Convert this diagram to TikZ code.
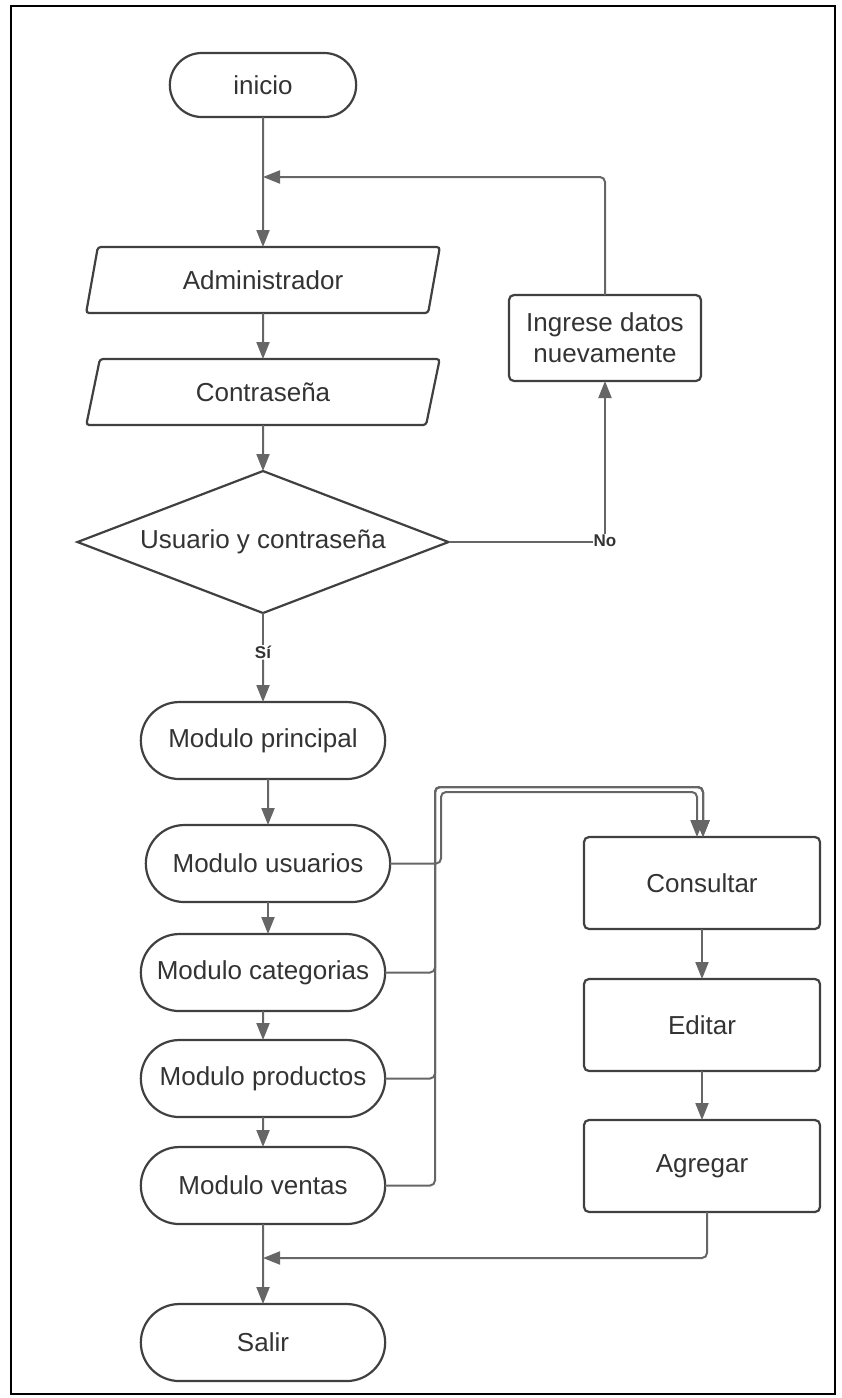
\documentclass[tikz,border=0pt]{standalone}
\usepackage{fontspec}
\setmainfont{Liberation Sans}
\usepackage{tikz}
\usetikzlibrary{positioning,shapes.geometric,shapes.misc,arrows.meta}

\begin{document}
\begin{tikzpicture}[
  x=1pt, y=-1pt,
  node distance=46pt,
  font=\fontsize{26}{31}\selectfont,
  every node/.style={text=black!80, outer sep=0pt},
  terminal/.style={rounded rectangle, draw=black!75, line width=2.2pt, minimum width=251pt, minimum height=77pt},
  inputbox/.style={trapezium, trapezium left angle=77, trapezium right angle=103, trapezium stretches=true, draw=black!75, line width=2.2pt, rounded corners=3pt, minimum width=354pt, minimum height=66pt},
  decision/.style={diamond, aspect=2.6, draw=black!75, line width=2.2pt, minimum width=371pt, minimum height=142pt, inner sep=0pt},
  process/.style={rectangle, draw=black!75, line width=2.2pt, rounded corners=5pt, minimum width=236pt, minimum height=92pt, align=center},
  tag/.style={font=\fontsize{17}{20}\selectfont\bfseries, inner sep=1pt},
  flow/.style={draw=black!60, line width=2pt, rounded corners=5pt, -{Triangle[length=17pt,width=13pt]}},
  line/.style={draw=black!60, line width=2pt, rounded corners=5pt}
]

\useasboundingbox (0,0) rectangle (842,1398);
\draw[line width=2.5pt] (11,6) rectangle (835,1394);

\node (inicio) [terminal, minimum width=193pt, minimum height=64pt] at (263,85) {inicio};
\node (admin) [inputbox, below=130pt of inicio] {Administrador};
\node (pass) [inputbox, below=of admin] {Contraseña};
\node (check) [decision, below=of pass] {Usuario y contraseña};
\node (si) [tag, below=32pt of check] {Sí};
\node (modMain) [terminal, below=89pt of check] {Modulo principal};
\node (modUsers) [terminal, below=of modMain, xshift=5pt] {Modulo usuarios};
\node (modCat) [terminal, below=32pt of modUsers, xshift=-5pt] {Modulo categorias};
\node (modProd) [terminal, below=29pt of modCat] {Modulo productos};
\node (modSales) [terminal, below=30pt of modProd] {Modulo ventas};
\node (salir) [terminal, below=80pt of modSales] {Salir};

\node (retry) [process, minimum width=192pt, minimum height=86pt] at (605,338) {Ingrese datos\\nuevamente};
\node (no) [tag] at (605,541) {No};

\node (consult) [process] at (702,883) {Consultar};
\node (edit) [process, below=50pt of consult] {Editar};
\node (add) [process, below=49pt of edit] {Agregar};

\coordinate (loopIn) at (263,177);
\coordinate (backIn) at (263,1258);
\coordinate (busOuter) at (435,787);
\coordinate (busInner) at (441,792);

\draw[flow] (inicio) -- (admin);
\draw[flow] (retry.north) |- (loopIn);
\draw[flow] (admin) -- (pass);
\draw[flow] (pass) -- (check);
\draw[line] (check.east) -- (check.east -| no.west);
\draw[flow] (no) -- (retry);
\draw[line] (check) -- (si);
\draw[flow] (si) -- (modMain);
\draw[flow] (modMain.south -| modUsers) -- (modUsers);
\draw[flow] (modUsers.south) -- (modUsers.south |- modCat.north);
\draw[flow] (modCat) -- (modProd);
\draw[flow] (modProd) -- (modSales);
\draw[flow] (modSales) -- (salir);

\draw[flow] (modUsers.east) -| (busInner) -| ([xshift=-5pt]consult.north);
\foreach \m in {modCat,modProd,modSales}
  \draw[flow] (\m.east) -| (busOuter) -| ([xshift=1pt]consult.north);

\draw[flow] (consult) -- (edit);
\draw[flow] (edit) -- (add);
\draw[flow] ([xshift=5pt]add.south) |- (backIn);

\end{tikzpicture}
\end{document}
